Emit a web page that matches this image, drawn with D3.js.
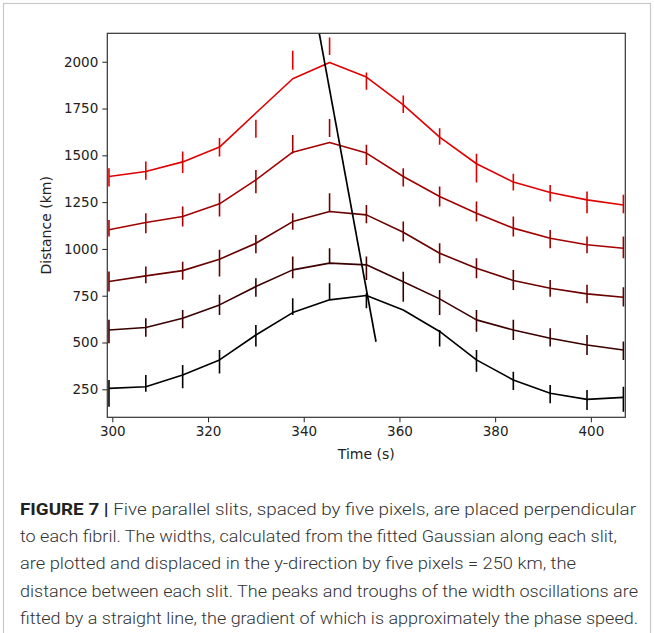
<!DOCTYPE html>
<html>
<head>
<meta charset="utf-8">
<script src="https://cdn.jsdelivr.net/npm/d3@7"></script>
<style>
  body { margin: 0; background: #fff; }
  svg { display: block; }
</style>
</head>
<body>
<script>
// time of each frame (s)
let times = [299.3, 307.0, 314.7, 322.4, 330.0, 337.7, 345.4, 353.1, 360.8, 368.4, 376.1, 383.8, 391.5, 399.2, 406.8]

// widths per slit, already shifted by 250 km each (top slit first)
let slit1 = [1387, 1414, 1465, 1544, 1726, 1909, 1996, 1918, 1770, 1597, 1455, 1357, 1301, 1262, 1235]
let slit1Lo = [1334, 1369, 1405, 1494, 1594, 1957, 2036, 1850, 1726, 1556, 1355, 1312, 1253, 1191, 1191]
let slit1Hi = [1431, 1467, 1521, 1592, 1690, 2059, 2130, 1943, 1820, 1645, 1508, 1401, 1342, 1307, 1289]

let slit2 = [1102, 1141, 1173, 1241, 1369, 1517, 1569, 1512, 1387, 1280, 1191, 1111, 1057, 1022, 1004]
let slit2Lo = [1066, 1084, 1120, 1173, 1298, 1510, 1598, 1449, 1334, 1227, 1146, 1066, 1004, 977, 950]
let slit2Hi = [1155, 1191, 1227, 1298, 1422, 1609, 1694, 1556, 1431, 1333, 1253, 1173, 1101, 1066, 1066]

let slit3 = [826, 856, 884, 945, 1030, 1146, 1200, 1182, 1089, 977, 897, 831, 790, 760, 742]
let slit3Lo = [772, 817, 835, 852, 977, 1102, 1200, 1137, 1039, 924, 843, 781, 745, 710, 692]
let slit3Hi = [879, 906, 932, 995, 1074, 1191, 1298, 1235, 1146, 1030, 950, 888, 834, 808, 795]

let slit4 = [567, 580, 630, 701, 799, 888, 924, 915, 825, 733, 621, 567, 523, 487, 460]
let slit4Lo = [496, 531, 576, 647, 745, 843, 924, 834, 718, 647, 558, 514, 478, 433, 407]
let slit4Hi = [621, 629, 674, 755, 843, 959, 1004, 959, 878, 781, 674, 621, 576, 540, 505]

let slit5 = [255, 264, 327, 407, 540, 660, 728, 751, 674, 559, 407, 300, 229, 196, 207]
let slit5Lo = [157, 237, 255, 335, 478, 647, 728, 683, 674, 478, 344, 246, 175, 139, 130]
let slit5Hi = [300, 327, 380, 460, 594, 737, 817, 763, 674, 567, 460, 344, 273, 246, 264]

let slitColors = ['#e00000', '#a50000', '#6b0000', '#3a0000', '#000000']

// straight line fitted through peaks
let fitTime = [343.15, 355.1]
let fitDist = [2165, 504]

let xTicks = [300, 320, 340, 360, 380, 400]
let yTicks = [250, 500, 750, 1000, 1250, 1500, 1750, 2000]

let captionLines = [
    'Five parallel slits, spaced by five pixels, are placed perpendicular',
    'to each fibril. The widths, calculated from the fitted Gaussian along each slit,',
    'are plotted and displaced in the y-direction by five pixels = 250 km, the',
    'distance between each slit. The peaks and troughs of the width oscillations are',
    'fitted by a straight line, the gradient of which is approximately the phase speed.'
]
let captionEnds = [636, 617, 576, 638, 638]

let width = 654
let height = 633
let plotL = 107.3, plotR = 625.3, plotT = 33.3, plotB = 417.3

let svg = d3.select('body').append('svg')
    .attr('width', width)
    .attr('height', height)

svg.append('rect')
    .attr('width', width).attr('height', height)
    .attr('fill', '#fff')

// figure frame
svg.append('rect')
    .attr('x', 3.5).attr('y', 3.5)
    .attr('width', width - 7).attr('height', height + 20)
    .attr('fill', 'none')
    .attr('stroke', '#c8c8c8')
    .attr('stroke-width', 1.2)

let xScale = d3.scaleLinear().domain([298.95, 407.2]).range([plotL, plotR])
let yScale = d3.scaleLinear().domain([100.4, 2152]).range([plotB, plotT])

svg.append('clipPath').attr('id', 'plot-clip')
    .append('rect')
    .attr('x', plotL).attr('y', plotT)
    .attr('width', plotR - plotL).attr('height', plotB - plotT)

let plot = svg.append('g').attr('clip-path', 'url(#plot-clip)')

let slits = [
    { values: slit1, lo: slit1Lo, hi: slit1Hi },
    { values: slit2, lo: slit2Lo, hi: slit2Hi },
    { values: slit3, lo: slit3Lo, hi: slit3Hi },
    { values: slit4, lo: slit4Lo, hi: slit4Hi },
    { values: slit5, lo: slit5Lo, hi: slit5Hi }
]

let line = d3.line()
    .x((d, i) => xScale(times[i]))
    .y(d => yScale(d))

slits.forEach((s, k) => {
    let color = slitColors[k]
    plot.append('path')
        .datum(s.values)
        .attr('d', line)
        .attr('fill', 'none')
        .attr('stroke', color)
        .attr('stroke-width', 1.6)
        .attr('stroke-linejoin', 'round')

    plot.selectAll('.err' + k)
        .data(times)
        .enter()
        .append('line')
        .attr('class', 'err' + k)
        .attr('x1', t => xScale(t))
        .attr('x2', t => xScale(t))
        .attr('y1', (t, i) => yScale(s.lo[i]))
        .attr('y2', (t, i) => yScale(s.hi[i]))
        .attr('stroke', color)
        .attr('stroke-width', 1.6)
})

// fitted phase line
plot.append('line')
    .attr('x1', xScale(fitTime[0]))
    .attr('y1', yScale(fitDist[0]))
    .attr('x2', xScale(fitTime[1]))
    .attr('y2', yScale(fitDist[1]))
    .attr('stroke', '#000')
    .attr('stroke-width', 1.7)

// axes
let xAxis = d3.axisBottom(xScale).tickValues(xTicks).tickSize(5).tickPadding(4).tickFormat(d3.format('d'))
let yAxis = d3.axisLeft(yScale).tickValues(yTicks).tickSize(5).tickPadding(4).tickFormat(d3.format('d'))

let gx = svg.append('g')
    .attr('transform', 'translate(0,' + plotB + ')')
    .call(xAxis)
let gy = svg.append('g')
    .attr('transform', 'translate(' + plotL + ',0)')
    .call(yAxis)

;[gx, gy].forEach(g => {
    g.select('.domain').remove()
    g.selectAll('.tick line').attr('stroke', '#222').attr('stroke-width', 1)
    g.selectAll('.tick text')
        .attr('fill', '#222')
        .style('font-family', 'DejaVu Sans')
        .style('font-size', '13.5px')
})

svg.append('rect')
    .attr('x', plotL).attr('y', plotT)
    .attr('width', plotR - plotL).attr('height', plotB - plotT)
    .attr('fill', 'none')
    .attr('stroke', '#333')
    .attr('stroke-width', 1.2)

svg.append('text')
    .attr('x', (plotL + plotR) / 2)
    .attr('y', 459)
    .attr('text-anchor', 'middle')
    .style('font-family', 'DejaVu Sans')
    .style('font-size', '14px')
    .attr('fill', '#222')
    .text('Time (s)')

svg.append('text')
    .attr('transform', 'translate(51,' + (plotT + plotB) / 2 + ') rotate(-90)')
    .attr('text-anchor', 'middle')
    .style('font-family', 'DejaVu Sans')
    .style('font-size', '14px')
    .attr('fill', '#222')
    .text('Distance (km)')

// caption
let caption = svg.append('g')
    .style('font-family', 'Roboto')
    .style('font-size', '16.5px')
    .attr('fill', '#333')

captionLines.forEach((txt, i) => {
    let t = caption.append('text')
        .attr('x', 20)
        .attr('y', 515 + i * 27.2)
        .attr('textLength', captionEnds[i] - 20)
        .attr('lengthAdjust', 'spacingAndGlyphs')
    if (i === 0) {
        t.append('tspan').style('font-weight', 'bold').attr('fill', '#222').text('FIGURE 7 | ')
    }
    t.append('tspan').style('font-weight', 300).text(txt)
})
</script>
</body>
</html>
